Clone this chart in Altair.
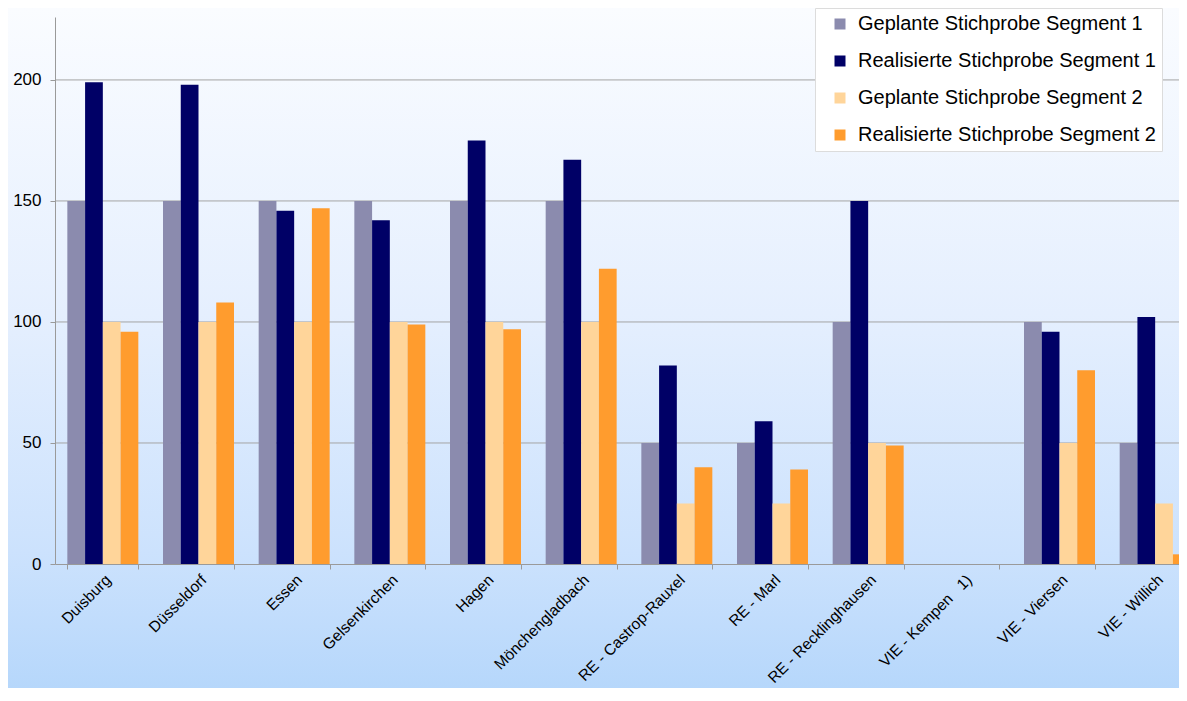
import altair as alt
import pandas as pd

categories = ["Duisburg", "Düsseldorf", "Essen", "Gelsenkirchen", "Hagen",
              "Mönchengladbach", "RE - Castrop-Rauxel", "RE - Marl",
              "RE - Recklinghausen", "VIE - Kempen\u00a0\u00a0\u00a01)",
              "VIE - Viersen", "VIE - Willich"]
series = ["Geplante Stichprobe Segment 1", "Realisierte Stichprobe Segment 1",
          "Geplante Stichprobe Segment 2", "Realisierte Stichprobe Segment 2"]
geplant_s1 = [150, 150, 150, 150, 150, 150, 50, 50, 100, 0, 100, 50]
realisiert_s1 = [199, 198, 146, 142, 175, 167, 82, 59, 150, 0, 96, 102]
geplant_s2 = [100, 100, 100, 100, 100, 100, 25, 25, 50, 0, 50, 25]
realisiert_s2 = [96, 108, 147, 99, 97, 122, 40, 39, 49, 0, 80, 4]
colors = ["#8b8bae", "#000066", "#ffd59a", "#ff9c2e"]
y_ticks = [0, 50, 100, 150, 200]
grid_ticks = [50, 100, 150, 200]

rows = []
for s, vals in zip(series, [geplant_s1, realisiert_s1, geplant_s2, realisiert_s2]):
    for c, v in zip(categories, vals):
        rows.append({"Ort": c, "Serie": s, "Wert": v})
df = pd.DataFrame(rows)
grid_df = pd.DataFrame({"tick": grid_ticks})
bg_df = pd.DataFrame({"a": [0]})

W, H = 1124, 547
PAD = {"left": 47, "top": 9, "right": 0, "bottom": 124}

y_scale = alt.Scale(domain=[0, 226], nice=False)
y_axis = alt.Axis(title=None, values=y_ticks, grid=False, zindex=1)

background = alt.Chart(bg_df).mark_rect(
    color=alt.Gradient(
        gradient="linear",
        stops=[alt.GradientStop(color="#fafcff", offset=0),
               alt.GradientStop(color="#e5effe", offset=0.45),
               alt.GradientStop(color="#cce2fd", offset=0.8),
               alt.GradientStop(color="#b6d7fb", offset=1)],
        x1=0, x2=0, y1=0, y2=1)
).encode(
    x=alt.value(-PAD["left"]), x2=alt.value(W),
    y=alt.value(-PAD["top"]), y2=alt.value(H + PAD["bottom"])
)

grid = alt.Chart(grid_df).mark_rule(color="#a4a4a4", strokeWidth=1).encode(
    y=alt.Y("tick:Q", scale=y_scale, axis=y_axis),
    x=alt.value(0), x2=alt.value(W)
)

bars = alt.Chart(df).mark_bar().encode(
    x=alt.X("Ort:N", sort=categories,
            scale=alt.Scale(range=[0, 1148], paddingInner=0.258, paddingOuter=0.129),
            axis=alt.Axis(title=None, labelAngle=-45, tickBand="extent", zindex=1)),
    xOffset=alt.XOffset("Serie:N", sort=series,
                        scale=alt.Scale(paddingInner=0, paddingOuter=0)),
    y=alt.Y("Wert:Q", scale=y_scale, axis=y_axis),
    color=alt.Color("Serie:N", sort=series,
                    scale=alt.Scale(domain=series, range=colors),
                    legend=alt.Legend(title=None, orient="none", legendX=760, legendY=-9,
                                      fillColor="white", strokeColor="#dcdcdc",
                                      padding=6, symbolOffset=9, labelOffset=8,
                                      labelFontSize=20, rowPadding=17,
                                      labelLimit=500,
                                      symbolType="square", symbolSize=121,
                                      symbolStrokeWidth=0, labelColor="#000000",
                                      labelExpr="datum.label + '\u00a0\u00a0\u00a0\u00a0'"))
)

chart = alt.layer(background, grid, bars).properties(
    width=W, height=H,
    autosize=alt.AutoSizeParams(type="none"),
    padding=PAD
).configure(
    font="Liberation Sans"
).configure_view(
    stroke=None
).configure_axis(
    domainColor="#9a9a9a", tickColor="#9a9a9a", tickSize=5,
    labelFontSize=17, labelColor="#000000", labelFont="Liberation Sans",
    labelPadding=9
).configure_axisX(
    labelPadding=3, labelFontSize=15.5
)

chart.save("out.html", embed_options={"renderer": "svg", "actions": False})
